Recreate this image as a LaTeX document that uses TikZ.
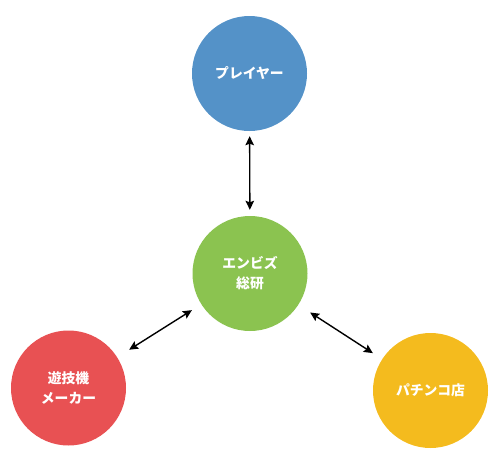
\documentclass[tikz,border=0pt]{standalone}
\usepackage{fontspec}
\newfontfamily\jpfont{Noto Sans CJK JP}
\usetikzlibrary{arrows.meta}
\definecolor{playerblue}{RGB}{84,146,200}
\definecolor{ensgreen}{RGB}{139,195,80}
\definecolor{makerred}{RGB}{232,81,83}
\definecolor{shopyellow}{RGB}{244,187,30}

\begin{document}
\begin{tikzpicture}[x=1pt,y=-1pt,>={Stealth[length=9pt,width=8.5pt,inset=1.5pt]},
  every node/.style={font=\jpfont\bfseries\fontsize{13.8}{20}\selectfont},
  actor/.style={circle,minimum size=115pt,inner sep=0pt,text=white,align=center},
  link/.style={<->,line width=1.4pt,black}]
  \useasboundingbox (0,0) rectangle (499,466);
  \node[actor,fill=playerblue] (player) at (249.5,73.5) {プレイヤー};
  \node[actor,fill=ensgreen] (ens) at (250,273.5) {エンビズ\\総研};
  \node[actor,fill=makerred] (maker) at (68.5,388) {遊技機\\メーカー};
  \node[actor,fill=shopyellow] (shop) at (430.5,390.5) {パチンコ店};
  \draw[link,shorten <=5pt,shorten >=6pt] (player) -- (ens);
  \draw[link,shorten <=11pt,shorten >=14pt] (ens) -- (maker);
  \draw[link,shorten <=14pt,shorten >=11pt] (ens) -- (shop);
\end{tikzpicture}
\end{document}
